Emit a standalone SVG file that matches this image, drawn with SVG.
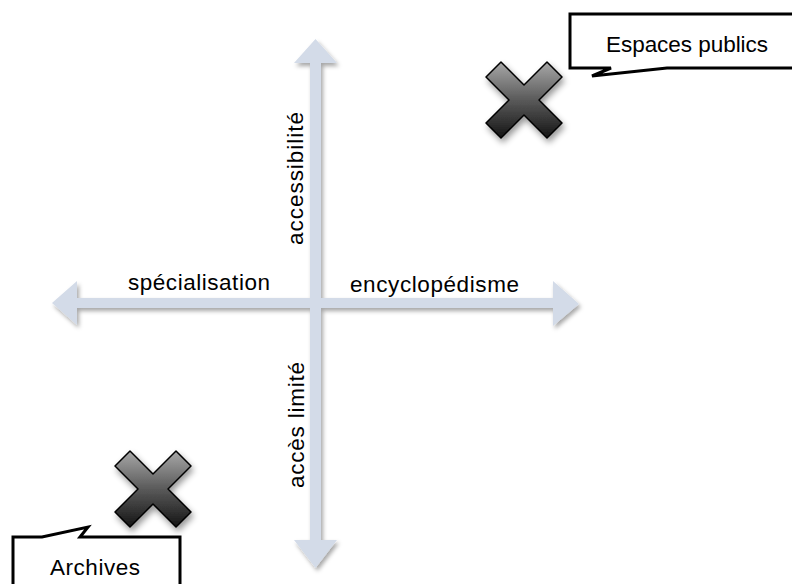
<svg xmlns="http://www.w3.org/2000/svg" width="792" height="584" viewBox="0 0 792 584">
<style>
.lbl{font-family:"Liberation Sans",Arial,sans-serif;font-size:22.5px;fill:#000}
.box{fill:#fff;stroke:#000;stroke-width:3;stroke-linejoin:miter}
.xm{fill:url(#xg);stroke:#000;stroke-width:1.5;stroke-linejoin:round}
</style>
<defs>
<filter id="sh" x="-10%" y="-10%" width="130%" height="130%">
<feDropShadow dx="2" dy="3" stdDeviation="2" flood-color="#000" flood-opacity="0.35"/>
</filter>
<filter id="shx" x="-20%" y="-20%" width="150%" height="150%">
<feDropShadow dx="2" dy="4" stdDeviation="3" flood-color="#000" flood-opacity="0.4"/>
</filter>
<linearGradient id="xg" x1="0" y1="0" x2="0" y2="1">
<stop offset="0" stop-color="#a8a8a8"/>
<stop offset="0.5" stop-color="#5a5a5a"/>
<stop offset="1" stop-color="#141414"/>
</linearGradient>
<path id="xshape" d="M-38,-23 L-23,-38 L0,-15 L23,-38 L38,-23 L15,0 L38,23 L23,38 L0,15 L-23,38 L-38,23 L-15,0 Z"/>
</defs>
<rect width="792" height="584" fill="#fff"/>
<g id="connectors" filter="url(#sh)" fill="#d3dbe8">
<polygon points="315.5,39 337,63 321,63 321,540 337,540 315.5,568 294,540 310,540 310,63 294,63"/>
<polygon points="52,303 77,281 77,298 553,298 553,281 579,304 553,326 553,308 77,308 77,325"/>
</g>
<g id="axis-labels">
<text class="lbl" x="199" y="290" text-anchor="middle" textLength="142">spécialisation</text>
<text class="lbl" x="434.5" y="292" text-anchor="middle" textLength="169">encyclopédisme</text>
<text class="lbl" transform="translate(303,178.5) rotate(-90)" text-anchor="middle" textLength="133">accessibilité</text>
<text class="lbl" transform="translate(304,425) rotate(-90)" text-anchor="middle" textLength="126">accès limité</text>
</g>
<g id="espaces-publics">
<path class="box" d="M570,14 H800 V68 H667 L592,76 L611,68 H570 Z"/>
<text class="lbl" x="687" y="52" text-anchor="middle" textLength="162">Espaces publics</text>
<use href="#xshape" class="xm" transform="translate(524,100)" filter="url(#shx)"/>
</g>
<g id="archives">
<path class="box" d="M13,537 L42,537 L88,527 L80,537 L180,537 V600 H13 Z"/>
<text class="lbl" x="95" y="575" text-anchor="middle" textLength="90">Archives</text>
<use href="#xshape" class="xm" transform="translate(153,489)" filter="url(#shx)"/>
</g>
</svg>
